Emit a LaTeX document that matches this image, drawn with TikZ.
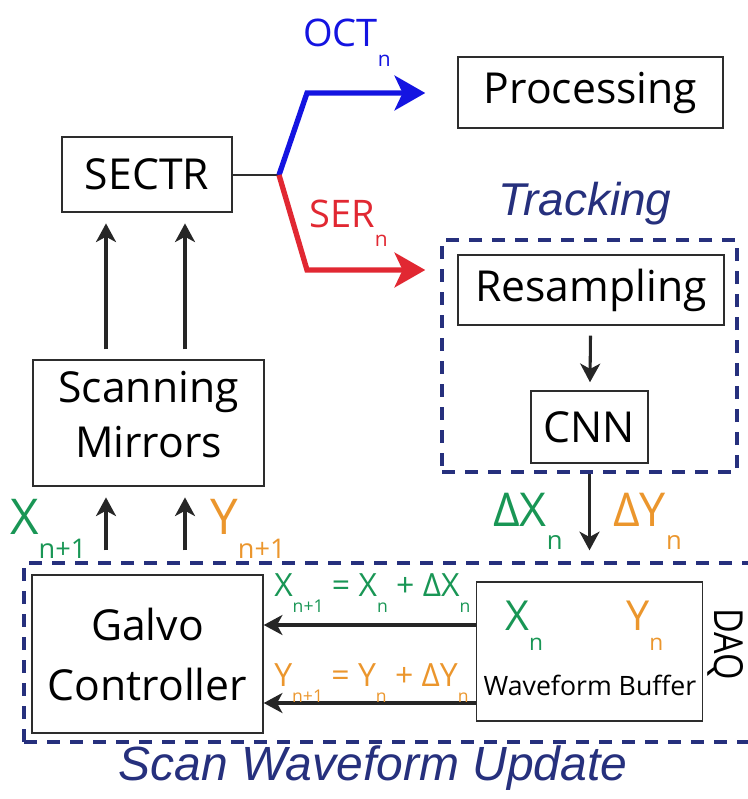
\documentclass[tikz,border=0pt]{standalone}
\usepackage{fontspec}
\usepackage{graphicx}
\setmainfont{Open Sans}
\newfontfamily\itfont{Liberation Sans}
\newfontfamily\daqfont[FakeStretch=0.85]{Open Sans}
\usetikzlibrary{arrows.meta}

\definecolor{octblue}{RGB}{20,20,225}
\definecolor{serred}{RGB}{225,40,50}
\definecolor{xgreen}{RGB}{25,150,85}
\definecolor{yorange}{RGB}{235,150,45}
\definecolor{navy}{RGB}{38,48,125}
\definecolor{boxline}{RGB}{45,45,45}

% lowered, reduced subscript
\newcommand\lsub[1]{\raisebox{-0.5em}{\scalebox{0.55}{#1}}}
\newcommand\fs[1]{\fontsize{#1}{#1}\selectfont}

\tikzset{
  blk/.style={draw=boxline, line width=1.1pt, align=center, inner sep=0pt, font=\fs{32pt}},
  arr/.style={line width=2.3pt, draw=black!85, -{Stealth[length=14pt,width=15pt,inset=4pt]}},
  bigarr/.style={line width=4pt, line join=miter, -{Stealth[length=23pt,width=26pt,inset=6pt]}},
  dashbox/.style={draw=navy, line width=3pt, dash pattern=on 9.75pt off 7.5pt, inner sep=0pt},
  lbl/.style={inner sep=0pt, anchor=base west},
}

\begin{document}
\begin{tikzpicture}[x=0.75pt, y=-0.75pt]
\useasboundingbox (0,0) rectangle (747,799);

% group frames
\node[dashbox, minimum width=295*0.75pt, minimum height=232*0.75pt] (track) at (589.5,356) {};
\node[dashbox, minimum width=736*0.75pt, minimum height=179*0.75pt] (scan) at (392,652.5) {};

% blocks
\node[blk, minimum width=170*0.75pt, minimum height=75*0.75pt] (sectr) at (147,174.5) {SECTR};
\node[blk, minimum width=265*0.75pt, minimum height=71*0.75pt] (proc) at (590.5,92.5) {Processing};
\node[blk, minimum width=266*0.75pt, minimum height=70*0.75pt] (resamp) at (591,290) {Resampling};
\node[blk, minimum width=117*0.75pt, minimum height=72*0.75pt] (cnn) at (589.5,427) {CNN};
\node[blk, minimum width=231*0.75pt, minimum height=126*0.75pt] (mirrors) at (148.5,423) {};
\node[inner sep=0pt, align=center, font=\fs{32pt}, anchor=base] (mirtext) at (148.5,457) {Scanning\\[9pt]Mirrors};
\node[blk, minimum width=231*0.75pt, minimum height=158*0.75pt] (galvo) at (147.5,654) {Galvo\\[13pt]Controller};
\node[blk, minimum width=226*0.75pt, minimum height=139*0.75pt] (buffer) at (589.5,651.5) {};

% contents of the waveform buffer
\node[lbl, text=xgreen, font=\fs{31pt}] (xn) at (505,630) {X\lsub{n}};
\node[lbl, text=yorange, font=\fs{31pt}] (yn) at (626,630) {Y\lsub{n}};
\node[inner sep=0pt, anchor=base, font=\fs{20pt}] (wfb) at (590,695) {Waveform Buffer};

% group titles
\node[inner sep=0pt, anchor=base, text=navy, font=\itfont\itshape\fs{34.5pt}] (tracktitle) at (585,215) {Tracking};
\node[inner sep=0pt, anchor=base, text=navy, font=\itfont\itshape\fs{36pt}] (scantitle) at (373,780) {Scan Waveform Update};
\node[inner sep=0pt, rotate=-90, font=\daqfont\fs{30pt}] (daq) at (726,644) {DAQ};

% routing points
\coordinate (junc) at (279,175);
\coordinate (bendup) at (307,93);
\coordinate (benddn) at (307,270);
\coordinate (xa) at (106,0);
\coordinate (xb) at (185,0);
\coordinate (ya) at (0,625);
\coordinate (yb) at (0,703);

% SECTR output split
\draw[line width=1.6pt, draw=boxline] (sectr.east |- junc) -- (junc);
\draw[bigarr, draw=octblue, shorten >=24pt] (junc) -- (bendup) -- (bendup -| proc.west);
\draw[bigarr, draw=serred, shorten >=24pt] (junc) -- (benddn) -- (benddn -| resamp.west);
\node[lbl, text=octblue, font=\fs{28.5pt}] (octlbl) at (303,47) {OCT\lsub{n}};
\node[lbl, text=serred, font=\fs{28.5pt}] (serlbl) at (309,227) {SER\lsub{n}};

% mirrors to SECTR
\draw[arr, shorten <=7.5pt, shorten >=8pt] (mirrors.north -| xa) -- (sectr.south -| xa);
\draw[arr, shorten <=7.5pt, shorten >=8pt] (mirrors.north -| xb) -- (sectr.south -| xb);

% controller to mirrors
\draw[arr, shorten <=8pt, shorten >=8pt] (scan.north -| xa) -- (mirrors.south -| xa);
\draw[arr, shorten <=8pt, shorten >=8pt] (scan.north -| xb) -- (mirrors.south -| xb);
\node[lbl, text=xgreen, font=\fs{37pt}] (xnext) at (10,534) {X\lsub{n+1}};
\node[lbl, text=yorange, font=\fs{37pt}] (ynext) at (210,534) {Y\lsub{n+1}};

% tracking chain
\draw[arr, shorten <=7.5pt, shorten >=6pt] (resamp) -- (cnn);
\draw[arr, shorten >=8pt] (track.south -| cnn) -- (scan.north -| cnn);
\node[lbl, text=xgreen, font=\fs{35pt}] (dx) at (493,526) {\char"0394X\lsub{n}};
\node[lbl, text=yorange, font=\fs{35pt}] (dy) at (613,526) {\char"0394Y\lsub{n}};

% waveform update
\draw[arr] (buffer.west |- ya) -- (galvo.east |- ya);
\draw[arr] (buffer.west |- yb) -- (galvo.east |- yb);
\node[lbl, text=xgreen, font=\fs{24pt}] (xeq) at (274,596) {X\lsub{n+1} = X\lsub{n} + \char"0394X\lsub{n}};
\node[lbl, text=yorange, font=\fs{24pt}] (yeq) at (274,686) {Y\lsub{n+1} = Y\lsub{n} + \char"0394Y\lsub{n}};
\end{tikzpicture}
\end{document}
